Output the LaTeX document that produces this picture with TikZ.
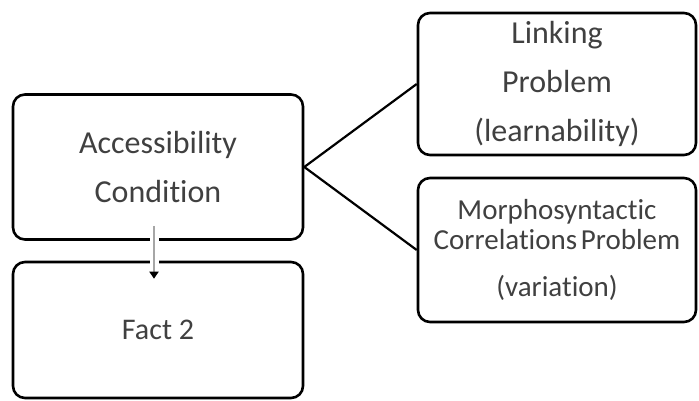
\documentclass[tikz,border=0pt]{standalone}
\usepackage{fontspec}
\setmainfont{Carlito}[Ligatures=NoCommon]
\usetikzlibrary{arrows.meta}
\definecolor{textgray}{HTML}{404040}
\definecolor{arrowgray}{HTML}{A6A6A6}
\tikzset{
  factbox/.style={draw=black,line width=2.6pt,rounded corners=12pt,align=center,
    text=textgray,inner sep=0pt,font=\fontsize{32}{49}\selectfont},
  flowarrow/.style={draw=arrowgray,line width=2.2pt,
    preaction={draw=white,line width=9pt,-},
    -{Triangle[width=9pt,length=7pt,color=black]}}
}
\begin{document}
\begin{tikzpicture}[x=1pt,y=-1pt]
\useasboundingbox (0,0) rectangle (699,401);
\node[factbox,minimum width=290pt,minimum height=145pt] (access) at (158,167)
  {Accessibility\\Condition};
\node[factbox,minimum width=290pt,minimum height=136pt,font=\fontsize{30}{49}\selectfont] (fact) at (158,330)
  {Fact 2};
\node[factbox,minimum width=278pt,minimum height=142pt] (linking) at (557,84)
  {Linking\\Problem\\(learnability)};
\node[factbox,minimum width=278pt,minimum height=144pt,font=\fontsize{29}{49}\selectfont] (morpho) at (557,250)
  {Morphosyntactic\\[-19pt]Correlations\hspace{-0.1em} Problem\\[-2pt](variation)};
% connectors
\draw[line width=2.2pt] (access.east) -- (linking.west);
\draw[line width=2.2pt] (access.east) -- (morpho.west);
\draw[flowarrow] ([xshift=-4pt,yshift=15pt]access.south) -- ([xshift=-4pt,yshift=-18pt]fact.north);
\end{tikzpicture}
\end{document}
